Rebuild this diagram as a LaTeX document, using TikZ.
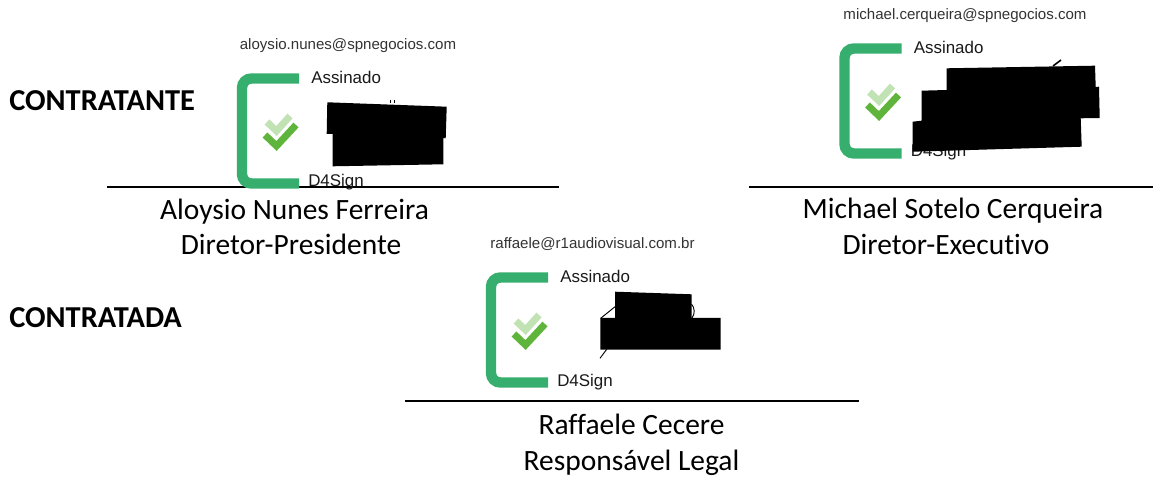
\documentclass[tikz,border=0pt]{standalone}
\usepackage{fontspec}
\setmainfont{Carlito}[Ligatures=NoCommon]
\newfontfamily\signfont{Liberation Sans}
\definecolor{brgreen}{HTML}{36AE6E}
\definecolor{ckdark}{HTML}{5FB53C}
\definecolor{cklight}{HTML}{C1E3B4}
\definecolor{mailgray}{HTML}{333333}
\tikzset{
  px/.style={x=0.75pt,y=-0.75pt},
  bracketline/.style={draw=brgreen,line width=7.8pt,rounded corners=7pt},
  darkcheck/.style={draw=ckdark,line width=5.2pt,line cap=butt,line join=miter},
  lightcheck/.style={draw=cklight,line width=5.2pt,line cap=butt,line join=miter},
  rule/.style={draw=black,line width=1pt},
  mail/.style={anchor=base,inner sep=0pt,text=mailgray,font=\signfont\fontsize{11.3pt}{13pt}\selectfont},
  signlabel/.style={anchor=base west,inner sep=0pt,text=black!90,font=\signfont\fontsize{12.7pt}{15pt}\selectfont},
  person/.style={anchor=base,inner sep=0pt,font=\fontsize{22.1pt}{26pt}\selectfont},
  party/.style={anchor=base west,inner sep=0pt,font=\bfseries\fontsize{22.8pt}{26pt}\selectfont},
  redact/.style={fill=black,draw=none},
  scrap/.style={draw=black,line width=0.7pt},
}
\newcommand{\signmark}[3]{%
  \begin{scope}[shift={(#2,#3)}]
    \draw[bracketline] (62,5.5) -- (5,5.5) -- (5,110.5) -- (62,110.5);
    \draw[lightcheck] (30,49) -- (39.5,58) -- (53,43);
    \draw[darkcheck] (28,62) -- (39.5,73) -- (59,52);
    \node[signlabel] (#1as) at (74,11) {Assinado};
    \node[signlabel] (#1d4) at (71,114) {D4Sign};
  \end{scope}}
\begin{document}
\begin{tikzpicture}[px]
\useasboundingbox (0,0) rectangle (1153,477);
\fill[white] (0,0) rectangle (1153,477);
% rules
\coordinate (r1a) at (107,187); \coordinate (r1b) at (559,187);
\coordinate (r2a) at (749,187); \coordinate (r2b) at (1153,187);
\coordinate (r3a) at (405,401); \coordinate (r3b) at (859,401);
\draw[rule] (r1a) -- (r1b);
\draw[rule] (r2a) -- (r2b);
\draw[rule] (r3a) -- (r3b);
% signatures
\signmark{a}{237}{73}
\signmark{b}{839.5}{43}
\signmark{c}{486}{272}
% e-mails
\node[mail] (mail1) at (348,50) {aloysio.nunes@spnegocios.com};
\node[mail] (mail2) at (965,20) {michael.cerqueira@spnegocios.com};
\node[mail] (mail3) at (592.5,249) {raffaele@r1audiovisual.com.br};
% parties
\node[party] (p1) at (9,111) {CONTRATANTE};
\node[party] (p2) at (9,327) {CONTRATADA};
% people
\node[person] (n1) at (294.5,220) {Aloysio Nunes Ferreira};
\node[person] (t1) at (291,255) {Diretor-Presidente};
\node[person] (n2) at (953,219) {Michael Sotelo Cerqueira};
\node[person] (t2) at (946,255) {Diretor-Executivo};
\node[person] (n3) at (631.5,434) {Raffaele Cecere};
\node[person] (t3) at (631.5,470) {Responsável Legal};
% signature scraps
\draw[scrap] (390,103) -- (390,100.5) (394,103) -- (394,100.5);
\draw[scrap,line width=1.2pt] (1053,66) -- (1061,60);
\draw[scrap] (600.7,318.3) -- (615,306.7);
\draw[scrap] (600,358.3) -- (606.7,349.3);
\draw[scrap] (691.5,304) .. controls (695,308) and (695,314) .. (692,318);
% redactions
\fill[redact] (327.3,102.3) -- (446.7,106.7) -- (445.7,138.3) -- (443.3,138) -- (443.3,164.3) -- (332.7,166.3) -- (332.7,134) -- (326.7,134) -- cycle;
\fill[redact] (946.7,68.3) -- (1095,65.7) -- (1095.7,87) -- (1099,86.7) -- (1099.7,118) -- (1080.7,118.3) -- (1081.7,146.7) -- (912.7,151.7) -- (912.7,121.7) -- (921.7,120.7) -- (921.7,90.7) -- (946.7,90) -- cycle;
\fill[redact] (615,291.7) -- (691.7,294.3) -- (691.7,318) -- (720.7,318) -- (720.7,349.7) -- (600.3,349.7) -- (600.3,318) -- (615,318) -- cycle;
\end{tikzpicture}
\end{document}
